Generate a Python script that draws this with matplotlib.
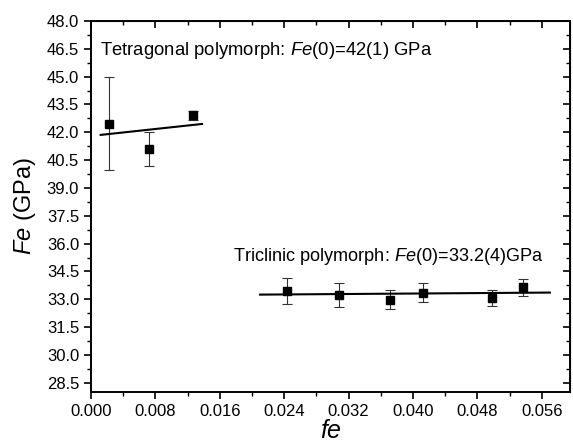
import matplotlib
matplotlib.use("Agg")
import matplotlib.pyplot as plt
from matplotlib.ticker import MultipleLocator, FormatStrFormatter

plt.rcParams["font.family"] = ["Liberation Sans", "DejaVu Sans"]
plt.rcParams["mathtext.fontset"] = "custom"
plt.rcParams["mathtext.it"] = "Liberation Sans:italic"
plt.rcParams["mathtext.rm"] = "Liberation Sans"

# Tetragonal polymorph data
tet_fe = [0.0022, 0.0072, 0.0127]
tet_Fe = [42.47, 41.09, 42.92]
tet_err = [2.5, 0.9, 0.25]
tet_fit_x = [0.0012, 0.0138]
tet_fit_y = [41.86, 42.45]

# Triclinic polymorph data
tri_fe = [0.0244, 0.0308, 0.0372, 0.0413, 0.0498, 0.0536]
tri_Fe = [33.43, 33.21, 32.98, 33.36, 33.05, 33.65]
tri_err = [0.70, 0.65, 0.53, 0.52, 0.43, 0.45]
tri_fit_x = [0.0210, 0.0570]
tri_fit_y = [33.25, 33.36]

fig = plt.figure(figsize=(5.73, 4.45), dpi=100)
ax = fig.add_axes([0.1588, 0.1191, 0.8360, 0.8337])

for xs, ys, es in [(tet_fe, tet_Fe, tet_err), (tri_fe, tri_Fe, tri_err)]:
    ax.errorbar(xs, ys, yerr=es, fmt="s", color="black", ms=5.5,
                ecolor="#333333", elinewidth=0.8, capsize=3.5, capthick=0.8)

ax.plot(tet_fit_x, tet_fit_y, color="black", lw=1.5)
ax.plot(tri_fit_x, tri_fit_y, color="black", lw=1.5)

ax.text(0.0011, 46.4, r"Tetragonal polymorph: $\mathit{Fe}$(0)=42(1) GPa",
        fontsize=13.3, va="center", ha="left")
ax.text(0.0177, 35.3, r"Triclinic polymorph: $\mathit{Fe}$(0)=33.2(4)GPa",
        fontsize=13.1, va="center", ha="left")

ax.set_xlim(0.0, 0.0595)
ax.set_ylim(28.0, 48.0)
ax.xaxis.set_major_locator(MultipleLocator(0.008))
ax.xaxis.set_minor_locator(MultipleLocator(0.004))
ax.xaxis.set_major_formatter(FormatStrFormatter("%.3f"))
ax.yaxis.set_major_locator(MultipleLocator(1.5))
ax.yaxis.set_minor_locator(MultipleLocator(0.75))
ax.yaxis.set_major_formatter(FormatStrFormatter("%.1f"))
ax.set_yticks([28.5 + 1.5 * i for i in range(14)])

ax.tick_params(which="major", direction="out", length=5, width=1.2, labelsize=12)
ax.tick_params(which="minor", direction="out", length=3, width=1.0)
for s in ax.spines.values():
    s.set_linewidth(1.4)

top = ax.secondary_xaxis("top")
top.xaxis.set_major_locator(MultipleLocator(0.008))
top.xaxis.set_minor_locator(MultipleLocator(0.004))
top.tick_params(which="major", direction="in", length=5, width=1.2, labeltop=False)
top.tick_params(which="minor", direction="in", length=3, width=1.0)
right = ax.secondary_yaxis("right")
right.set_yticks([28.5 + 1.5 * i for i in range(14)])
right.yaxis.set_minor_locator(MultipleLocator(0.75))
right.tick_params(which="major", direction="in", length=5, width=1.2, labelright=False)
right.tick_params(which="minor", direction="in", length=3, width=1.0)

ax.set_xlabel(r"$\mathit{fe}$", fontsize=18, labelpad=0)
ax.set_ylabel(r"$\mathit{Fe}$ (GPa)", fontsize=17, labelpad=6)

fig.savefig("out.png", dpi=100)
